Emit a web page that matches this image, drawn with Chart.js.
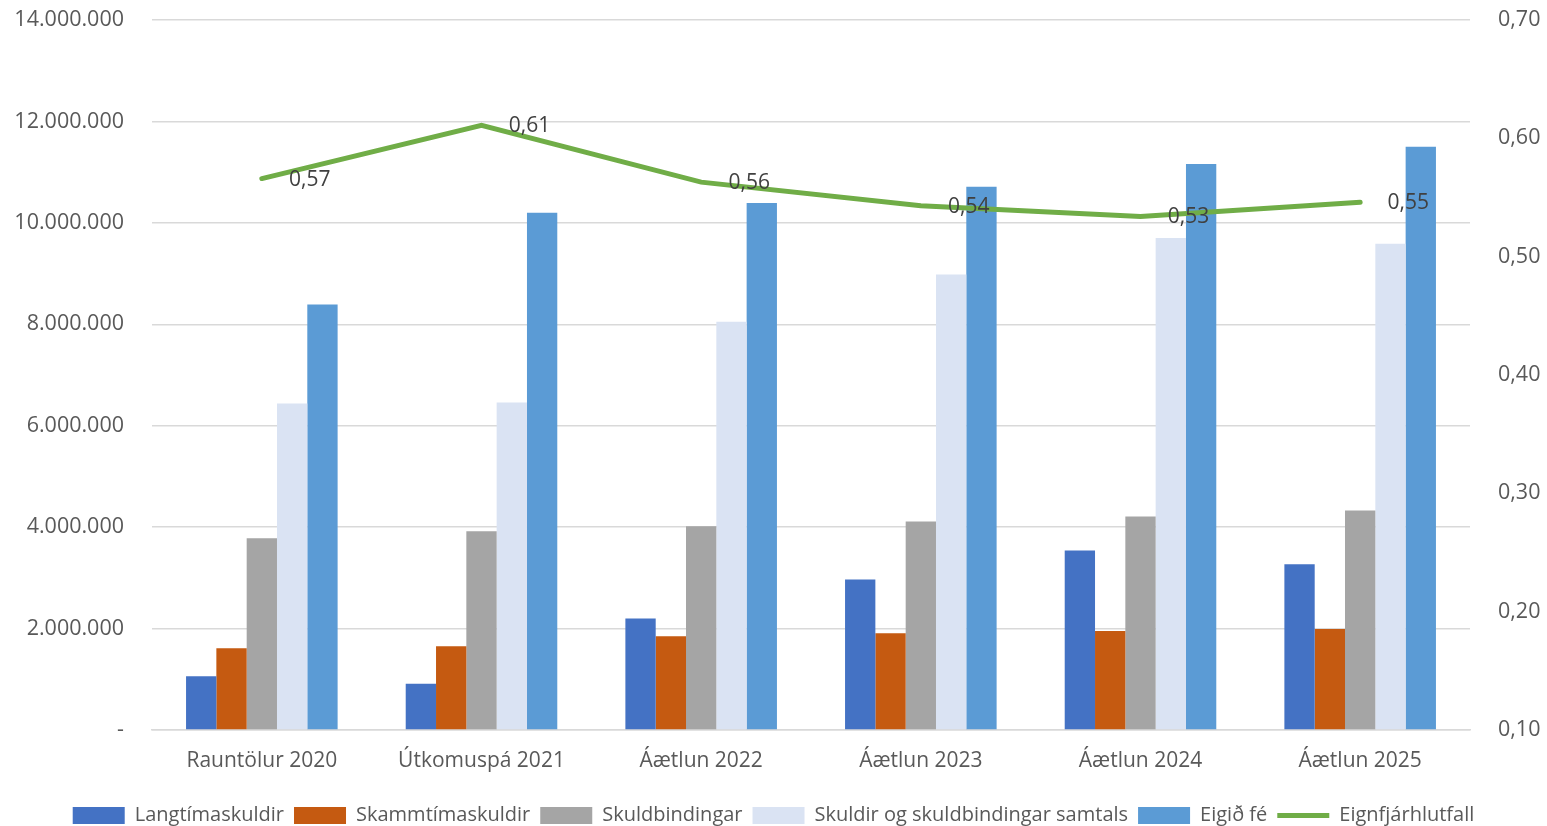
<!DOCTYPE html>
<html lang="is">
<head>
<meta charset="UTF-8">
<title>Efnahagur og eiginfjárhlutfall</title>
<script src="https://cdn.jsdelivr.net/npm/chart.js"></script>
<style>
  html, body { margin: 0; padding: 0; background: #ffffff; }
  .chart-box { width: 1547px; height: 826px; }
</style>
</head>
<body>
<div class="chart-box"><canvas id="efnahagur"></canvas></div>
<script>
// Flokkar og gögn (lesið af myndinni)
const categories = ['Rauntölur 2020', 'Útkomuspá 2021', 'Áætlun 2022', 'Áætlun 2023', 'Áætlun 2024', 'Áætlun 2025'];
const langtimaskuldir = [1060000, 910000, 2200000, 2970000, 3540000, 3270000];
const skammtimaskuldir = [1610000, 1650000, 1850000, 1910000, 1950000, 1990000];
const skuldbindingar = [3780000, 3920000, 4020000, 4110000, 4210000, 4330000];
const skuldirSamtals = [6440000, 6460000, 8050000, 8980000, 9700000, 9590000];
const eigidFe = [8390000, 10200000, 10390000, 10710000, 11160000, 11500000];
const eignfjarhlutfall = [0.566, 0.611, 0.563, 0.543, 0.534, 0.546];

const leftTicks = [0, 2000000, 4000000, 6000000, 8000000, 10000000, 12000000, 14000000];
const rightTicks = [0.1, 0.2, 0.3, 0.4, 0.5, 0.6, 0.7];

const FONT = "'Open Sans', 'Noto Sans', sans-serif";
const TEXT = '#595959';
const GRID = '#D9D9D9';

// Gildi á línunni, hægra megin við punktinn
const lineLabels = {
  id: 'lineLabels',
  afterDatasetsDraw(chart) {
    const meta = chart.getDatasetMeta(5);
    const ctx = chart.ctx;
    ctx.save();
    ctx.font = '21px ' + FONT;
    ctx.fillStyle = '#404040';
    ctx.textAlign = 'center';
    ctx.textBaseline = 'middle';
    meta.data.forEach((pt, i) => {
      ctx.fillText(eignfjarhlutfall[i].toFixed(2).replace('.', ','), pt.x + 48, pt.y + 1);
    });
    ctx.restore();
  }
};

const bar = (label, data, color) => ({
  type: 'bar', label: label, data: data, backgroundColor: color,
  yAxisID: 'y', order: 1, categoryPercentage: 0.69, barPercentage: 1.0
});

const noPad = s => { s.paddingTop = 0; s.paddingBottom = 0; };

new Chart(document.getElementById('efnahagur'), {
  data: {
    labels: categories,
    datasets: [
      bar('Langtímaskuldir', langtimaskuldir, '#4472C4'),
      bar('Skammtímaskuldir', skammtimaskuldir, '#C55A11'),
      bar('Skuldbindingar', skuldbindingar, '#A5A5A5'),
      bar('Skuldir og skuldbindingar samtals', skuldirSamtals, '#DAE3F3'),
      bar('Eigið fé', eigidFe, '#5B9BD5'),
      {
        type: 'line', label: 'Eignfjárhlutfall', data: eignfjarhlutfall,
        borderColor: '#70AD47', backgroundColor: '#70AD47', borderWidth: 5,
        pointRadius: 0, tension: 0, yAxisID: 'y1', order: 0, borderCapStyle: 'round'
      }
    ]
  },
  options: {
    responsive: true,
    maintainAspectRatio: false,
    animation: false,
    layout: { padding: { top: 20, bottom: -9.5, left: 0, right: 0 } },
    scales: {
      x: {
        afterFit: s => { s.height = 65.5; },
        grid: { display: false },
        border: { color: GRID, width: 1.5 },
        ticks: { color: TEXT, font: { family: FONT, size: 21 }, padding: 10 }
      },
      y: {
        position: 'left', min: 0, max: 14000000,
        afterBuildTicks: s => { s.ticks = leftTicks.map(v => ({ value: v })); },
        afterFit: s => { s.width = 152; noPad(s); },
        grid: { color: GRID, lineWidth: 1.5, drawTicks: false },
        border: { display: false },
        ticks: {
          color: TEXT, font: { family: FONT, size: 21.5 }, padding: 28,
          callback: v => v === 0 ? '-' : v.toLocaleString('de-DE')
        }
      },
      y1: {
        position: 'right', min: 0.1, max: 0.7,
        afterBuildTicks: s => { s.ticks = rightTicks.map(v => ({ value: v })); },
        afterFit: s => { s.width = 77; noPad(s); },
        grid: { display: false, drawTicks: false },
        border: { display: false },
        ticks: {
          color: TEXT, font: { family: FONT, size: 21.5 }, padding: 28,
          callback: v => v.toFixed(2).replace('.', ',')
        }
      }
    },
    plugins: {
      tooltip: { enabled: false },
      legend: {
        position: 'bottom',
        labels: {
          color: TEXT, font: { family: FONT, size: 20 },
          usePointStyle: true, pointStyleWidth: 52, boxWidth: 52, boxHeight: 17, padding: 10,
          sort: (a, b) => a.datasetIndex - b.datasetIndex,
          generateLabels: chart => {
            const items = Chart.defaults.plugins.legend.labels.generateLabels(chart);
            return items.map(it => {
              const ds = chart.data.datasets[it.datasetIndex];
              if (ds.type === 'line') {
                it.pointStyle = 'line';
                it.strokeStyle = ds.borderColor;
                it.lineWidth = 5;
              } else {
                it.pointStyle = 'rect';
                it.fillStyle = ds.backgroundColor;
                it.strokeStyle = ds.backgroundColor;
                it.lineWidth = 0;
              }
              return it;
            });
          }
        }
      }
    }
  },
  plugins: [lineLabels]
});
</script>
</body>
</html>
